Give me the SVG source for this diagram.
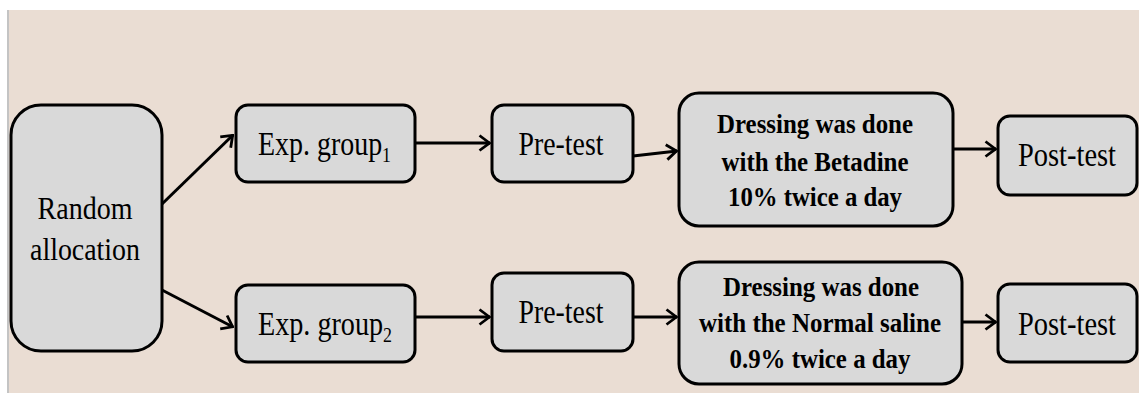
<svg xmlns="http://www.w3.org/2000/svg" width="1139" height="394" viewBox="0 0 1139 394" font-family="'Liberation Serif', 'DejaVu Serif', serif">
  <defs>
    <marker id="arr" viewBox="0 0 13 18" refX="12" refY="9" markerWidth="13" markerHeight="18" markerUnits="userSpaceOnUse" orient="auto">
      <path d="M1.5,1.5 L11.5,9 L1.5,16.5" fill="none" stroke="#000" stroke-width="2.8" stroke-linejoin="miter"/>
    </marker>
  </defs>
  <style>
    .box { fill: #D9D9D9; stroke: #000; stroke-width: 3; }
    .t { fill: #000; text-anchor: middle; }
    .s { fill: #000; text-anchor: start; }
    .b { font-weight: bold; fill: #000; text-anchor: middle; font-size: 27px; }
    .c { stroke: #000; stroke-width: 3; fill: none; marker-end: url(#arr); }
  </style>
  <rect x="0" y="0" width="1139" height="394" fill="#FFFFFF"/>
  <rect x="9" y="10" width="1130" height="383" fill="#EADDD3"/>
  <line x1="8" y1="10" x2="8" y2="393" stroke="#C4C4C4" stroke-width="2"/>

  <g id="random">
    <rect class="box" x="11" y="105" width="151" height="246" rx="30"/>
    <text class="t" font-family="'Liberation Serif', serif" x="85" y="219" font-size="32" textLength="95" lengthAdjust="spacingAndGlyphs">Random</text>
    <text class="t" font-family="'Liberation Serif', serif" x="85" y="260" font-size="32" textLength="110" lengthAdjust="spacingAndGlyphs">allocation</text>
  </g>

  <g id="exp1">
    <rect class="box" x="236" y="105" width="179" height="77" rx="12"/>
    <text class="s" font-family="'Liberation Serif', serif" x="258" y="155" font-size="33" textLength="133" lengthAdjust="spacingAndGlyphs">Exp. group<tspan dy="7" font-size="21">1</tspan></text>
  </g>
  <g id="exp2">
    <rect class="box" x="236" y="285" width="179" height="77" rx="12"/>
    <text class="s" font-family="'Liberation Serif', serif" x="258" y="335" font-size="33" textLength="134" lengthAdjust="spacingAndGlyphs">Exp. group<tspan dy="7" font-size="21">2</tspan></text>
  </g>

  <g id="pre1">
    <rect class="box" x="492" y="105" width="141" height="77" rx="12"/>
    <text class="t" font-family="'Liberation Serif', serif" x="561" y="155" font-size="33" textLength="85" lengthAdjust="spacingAndGlyphs">Pre-test</text>
  </g>
  <g id="pre2">
    <rect class="box" x="492" y="273" width="141" height="78" rx="12"/>
    <text class="t" font-family="'Liberation Serif', serif" x="561" y="323" font-size="33" textLength="85" lengthAdjust="spacingAndGlyphs">Pre-test</text>
  </g>

  <g id="dress1">
    <rect class="box" x="679" y="93" width="274" height="133" rx="20"/>
    <text class="b" font-family="'Liberation Serif', serif" x="815" y="133" textLength="196" lengthAdjust="spacingAndGlyphs">Dressing was done</text>
    <text class="b" font-family="'Liberation Serif', serif" x="815" y="171" textLength="187" lengthAdjust="spacingAndGlyphs">with the Betadine</text>
    <text class="b" font-family="'Liberation Serif', serif" x="815" y="206" textLength="174" lengthAdjust="spacingAndGlyphs">10% twice a day</text>
  </g>
  <g id="dress2">
    <rect class="box" x="679" y="262" width="283" height="122" rx="20"/>
    <text class="b" font-family="'Liberation Serif', serif" x="821" y="296" textLength="196" lengthAdjust="spacingAndGlyphs">Dressing was done</text>
    <text class="b" font-family="'Liberation Serif', serif" x="820" y="332" textLength="242" lengthAdjust="spacingAndGlyphs">with the Normal saline</text>
    <text class="b" font-family="'Liberation Serif', serif" x="820" y="368" textLength="181" lengthAdjust="spacingAndGlyphs">0.9% twice a day</text>
  </g>

  <g id="post1">
    <rect class="box" x="998" y="116" width="139" height="79" rx="12"/>
    <text class="t" font-family="'Liberation Serif', serif" x="1067" y="166" font-size="34" textLength="98" lengthAdjust="spacingAndGlyphs">Post-test</text>
  </g>
  <g id="post2">
    <rect class="box" x="998" y="284" width="139" height="78" rx="12"/>
    <text class="t" font-family="'Liberation Serif', serif" x="1067" y="335" font-size="34" textLength="98" lengthAdjust="spacingAndGlyphs">Post-test</text>
  </g>

  <g id="connectors">
    <line class="c" x1="162" y1="204" x2="233" y2="135"/>
    <line class="c" x1="162" y1="290" x2="233" y2="327"/>
    <line class="c" x1="415" y1="143" x2="490" y2="143"/>
    <line class="c" x1="415" y1="317" x2="490" y2="317"/>
    <line class="c" x1="633" y1="156" x2="677" y2="151"/>
    <line class="c" x1="633" y1="317" x2="677" y2="317"/>
    <line class="c" x1="953" y1="149" x2="996" y2="149"/>
    <line class="c" x1="962" y1="322" x2="996" y2="322"/>
  </g>
</svg>
